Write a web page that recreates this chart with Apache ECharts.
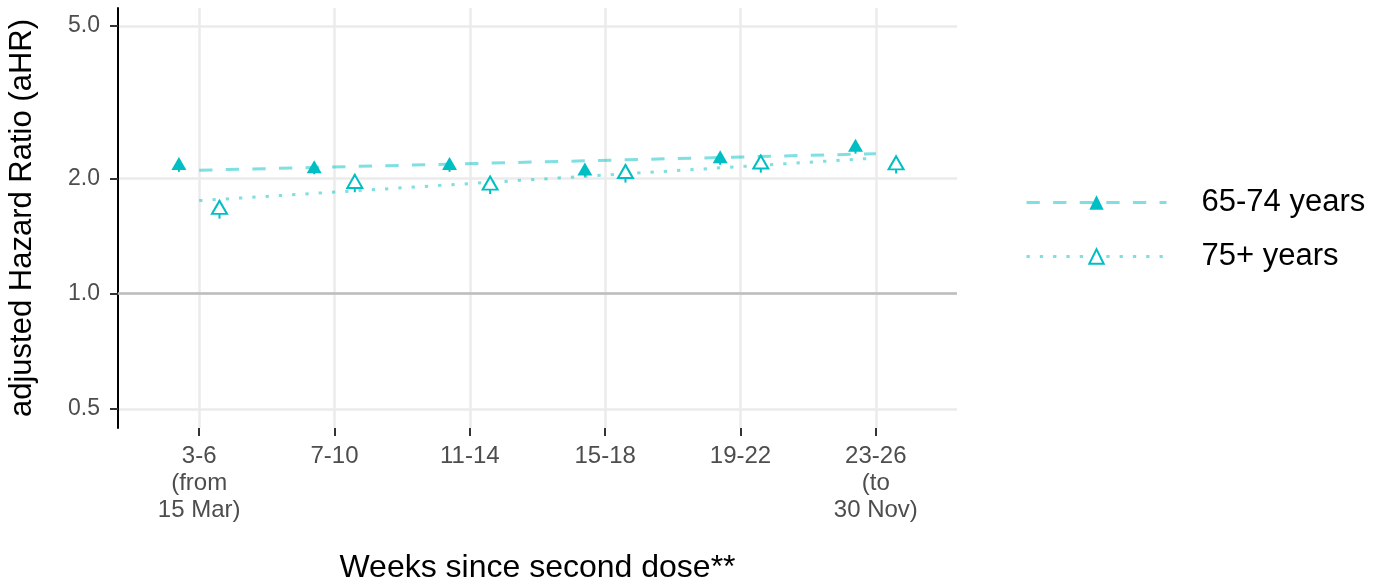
<!DOCTYPE html>
<html>
<head>
<meta charset="utf-8">
<script src="https://cdn.jsdelivr.net/npm/echarts@6/dist/echarts.min.js"></script>
<style>
html,body{margin:0;padding:0;background:#fff;}
#chart{width:1381px;height:581px;}
</style>
</head>
<body>
<div id="chart"></div>
<script>
// ---- data ----
const categories = ['3-6\n(from\n15 Mar)', '7-10', '11-14', '15-18', '19-22', '23-26\n(to\n30 Nov)'];
const yTicks = [0.5, 1.0, 2.0, 5.0];
const seriesNames = ['65-74 years', '75+ years'];
const ahr6574 = [2.16, 2.12, 2.16, 2.09, 2.25, 2.41];
const lower6574 = [2.08, 2.05, 2.08, 2.02, 2.17, 2.32];
const upper6574 = [2.24, 2.20, 2.24, 2.17, 2.33, 2.50];
const ahr75 = [1.66, 1.94, 1.92, 2.06, 2.18, 2.17];
const lower75 = [1.57, 1.84, 1.82, 1.95, 2.07, 2.06];
const upper75 = [1.75, 2.05, 2.03, 2.17, 2.30, 2.29];
const trend6574 = [2.10, 2.32];   // fitted trend at first and last category
const trend75 = [1.75, 2.26];
const referenceLine = 1.0;

// ---- build ----
const TEAL = '#00BFC4';
const TEAL_LINE = 'rgba(0,191,196,0.5)';
const FONT = 'Liberation Sans, Arial, sans-serif';
const dodge = 0.15;
const xPos = categories.map((c, i) => i + 1);

function pts(vals, off) { return vals.map((v, i) => [xPos[i] + off, v]); }
function bars(lo, hi, off) { return lo.map((v, i) => [xPos[i] + off, v, hi[i]]); }

function errorBarSeries(name, data) {
  return {
    type: 'custom', name: name, z: 3, silent: true,
    data: data,
    encode: { x: 0, y: [1, 2] },
    renderItem: function (params, api) {
      const a = api.coord([api.value(0), api.value(1)]);
      const b = api.coord([api.value(0), api.value(2)]);
      return { type: 'line', shape: { x1: a[0], y1: a[1], x2: b[0], y2: b[1] },
               style: { stroke: TEAL, lineWidth: 2 } };
    }
  };
}

const option = {
  animation: false,
  backgroundColor: '#fff',
  textStyle: { fontFamily: FONT },
  grid: { left: 118, right: 424, top: 8, bottom: 153, containLabel: false, outerBoundsMode: 'none' },
  legend: {
    orient: 'vertical', left: 1025, top: 187, padding: 0,
    itemWidth: 140, itemHeight: 18, itemGap: 23,
    data: seriesNames,
    lineStyle: { width: 3 },
    textStyle: { fontFamily: FONT, fontSize: 31, color: '#000', padding: [0, 0, 0, 30] },
    selectedMode: false
  },
  xAxis: {
    type: 'value', min: 0.4, max: 6.6,
    name: 'Weeks since second dose**', nameLocation: 'middle', nameGap: 124,
    nameTextStyle: { fontFamily: FONT, fontSize: 32, color: '#000' },
    axisLine: { show: false },
    axisTick: { show: true, length: 8, customValues: xPos, lineStyle: { color: '#333', width: 2 } },
    axisLabel: { customValues: xPos, margin: 15, fontSize: 24, color: '#4d4d4d', lineHeight: 27,
                 fontFamily: FONT, formatter: v => categories[Math.round(v) - 1] },
    splitLine: { show: true, lineStyle: { color: '#ebebeb', width: 2.5 } }
  },
  yAxis: {
    type: 'log', logBase: 10, min: 0.446, max: 5.57,
    name: 'adjusted Hazard Ratio (aHR)', nameLocation: 'middle', nameGap: 80, nameRotate: 90,
    nameTextStyle: { fontFamily: FONT, fontSize: 31, color: '#000' },
    axisLine: { show: true, lineStyle: { color: '#000', width: 2 } },
    axisTick: { show: true, length: 8, customValues: yTicks, lineStyle: { color: '#333', width: 2 } },
    axisLabel: { customValues: yTicks, margin: 18, fontSize: 23, color: '#4d4d4d', fontFamily: FONT,
                 formatter: v => Number(v).toFixed(1) },
    splitLine: { show: true, lineStyle: { color: '#ebebeb', width: 2.5 } }
  },
  series: [
    {
      name: seriesNames[0], type: 'line', z: 2, showSymbol: false,
      symbol: 'triangle', symbolSize: 14, silent: true,
      itemStyle: { color: TEAL },
      lineStyle: { color: TEAL_LINE, width: 3, type: [13.3, 13.3] },
      data: [[xPos[0], trend6574[0]], [xPos[xPos.length - 1], trend6574[1]]],
      markLine: {
        silent: true, symbol: ['none', 'none'], label: { show: false },
        lineStyle: { color: '#bdbdbd', width: 2.5, type: 'solid' },
        data: [{ yAxis: referenceLine }], z: 1
      }
    },
    {
      name: seriesNames[1], type: 'line', z: 2, showSymbol: false,
      symbol: 'emptyTriangle', symbolSize: 14, silent: true,
      itemStyle: { color: TEAL },
      lineStyle: { color: TEAL_LINE, width: 3, type: [3.3, 10] },
      data: [[xPos[0], trend75[0]], [xPos[xPos.length - 1], trend75[1]]]
    },
    errorBarSeries('err6574', bars(lower6574, upper6574, -dodge)),
    errorBarSeries('err75', bars(lower75, upper75, dodge)),
    {
      name: 'pts6574', type: 'scatter', z: 4, silent: true,
      symbol: 'triangle', symbolSize: [15, 13], symbolOffset: [0, -2],
      itemStyle: { color: TEAL, opacity: 1 },
      data: pts(ahr6574, -dodge)
    },
    {
      name: 'pts75', type: 'scatter', z: 4, silent: true,
      symbol: 'triangle', symbolSize: [15, 13], symbolOffset: [0, -2],
      itemStyle: { color: '#fff', borderColor: TEAL, borderWidth: 2, opacity: 1 },
      data: pts(ahr75, dodge)
    }
  ]
};

const chart = echarts.init(document.getElementById('chart'), null, { renderer: 'canvas' });
chart.setOption(option);
</script>
</body>
</html>
